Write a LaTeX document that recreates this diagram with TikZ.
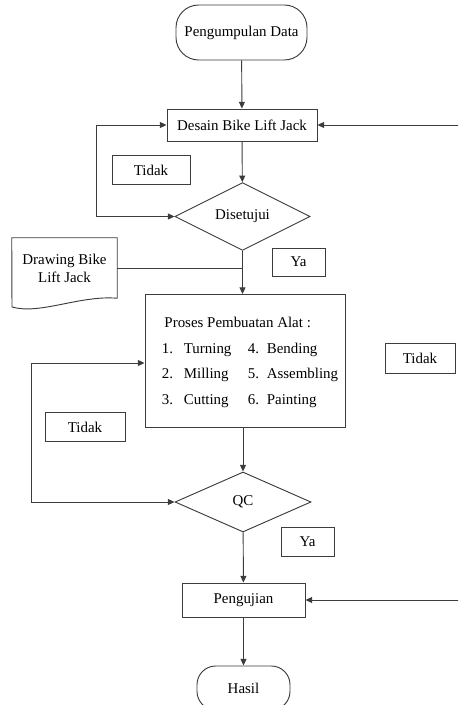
\documentclass[tikz,border=0pt]{standalone}
\usepackage{fontspec}
\setmainfont{Liberation Serif}
\usepackage{tikz}
\usetikzlibrary{arrows.meta,positioning,shapes.geometric}
\definecolor{ink}{HTML}{3C3C3C}

\begin{document}
\begin{tikzpicture}[
  x=0.75pt, y=-0.75pt,
  font=\fontsize{11.2}{13.5}\selectfont,
  box/.style={draw=ink, line width=0.7pt, fill=white, align=center, inner sep=0pt},
  terminal/.style={box, rounded corners=17pt},
  decision/.style={box, diamond},
  tag/.style={box, minimum height=22pt},
  arrow/.style={-{Triangle[length=5pt,width=4.5pt]}, line width=0.7pt, draw=ink},
  loop/.style={{Triangle[length=5pt,width=4.5pt]}-{Triangle[length=5pt,width=4.5pt]}, line width=0.7pt, draw=ink},
  link/.style={line width=0.7pt, draw=ink}
]
  \useasboundingbox (0,0) rectangle (458,705);
  \clip (0,0) rectangle (458,705);

  % main column
  \node[terminal, minimum width=98.25pt, minimum height=41.25pt] (start) at (241.5,32.5) {Pengumpulan Data};
  \node[box, minimum width=112.5pt, minimum height=24pt] (desain) at (242,125) {Desain Bike Lift Jack};
  \node[decision, minimum width=101.25pt, minimum height=45.75pt] (disetujui) at (242.5,216.5) {Disetujui};
  \node[box, minimum width=150pt, minimum height=99.75pt] (proses) at (245,361) {%
    \renewcommand{\arraystretch}{1.42}%
    \hspace*{7.5pt}\begin{tabular}{@{}p{16.5pt}@{}p{48pt}@{}p{14.25pt}@{}l@{}}
      \multicolumn{4}{@{}l@{}}{\hspace{2pt}Proses Pembuatan Alat :}\\
      1. & Turning & 4. & Bending\\
      2. & Milling & 5. & Assembling\\
      3. & Cutting & 6. & Painting
    \end{tabular}};
  \node[decision, minimum width=102pt, minimum height=45pt] (qc) at (243,502) {QC};
  \node[box, minimum width=92.25pt, minimum height=25.5pt] (pengujian) at (243.5,600) {Pengujian};
  \node[terminal, rounded corners=14pt, minimum width=69.75pt, minimum height=33pt] (hasil) at (243.5,688) {Hasil};

  % document input
  \node[align=center, minimum width=78.75pt, minimum height=45pt, inner sep=0pt] (drawing) at (64.5,268) {Drawing Bike\\Lift Jack};
  \draw[link] (drawing.south east) -- (drawing.north east) -- (drawing.north west) -- (12,307)
    .. controls (40,315) and (80,295) .. (drawing.south east);

  % labels
  \node[tag, minimum width=58.5pt] (tidakA) at (151,170) {Tidak};
  \node[tag, minimum width=39.75pt, minimum height=21pt] (yaA) at (298.5,262) {Ya};
  \node[tag, minimum width=52.5pt] (tidakB) at (420,358.5) {Tidak};
  \node[tag, minimum width=60pt] (tidakC) at (85,427) {Tidak};
  \node[tag, minimum width=39.75pt] (yaB) at (307.5,542) {Ya};

  \coordinate (backA) at (462,125);
  \coordinate (backB) at (462,600);

  \draw[arrow] (start) -- (desain);
  \draw[arrow] (desain) -- (disetujui);
  \draw[arrow] (disetujui.south) -- (disetujui.south |- proses.north);
  \draw[arrow] (proses.south -| qc.north) -- (qc.north);
  \draw[arrow] (qc) -- (pengujian);
  \draw[arrow] (pengujian) -- (hasil);
  \draw[link] (drawing.east) -- (drawing.east -| disetujui.south);
  \draw[loop] (disetujui.west) -- ++(-78,0) |- (desain.west);
  \draw[loop] (qc.west) -- ++(-143,0) |- ([yshift=-1.5pt]proses.west);
  \draw[arrow] (backA) -- (desain.east);
  \draw[arrow] (backB) -- (pengujian.east);
\end{tikzpicture}
\end{document}
